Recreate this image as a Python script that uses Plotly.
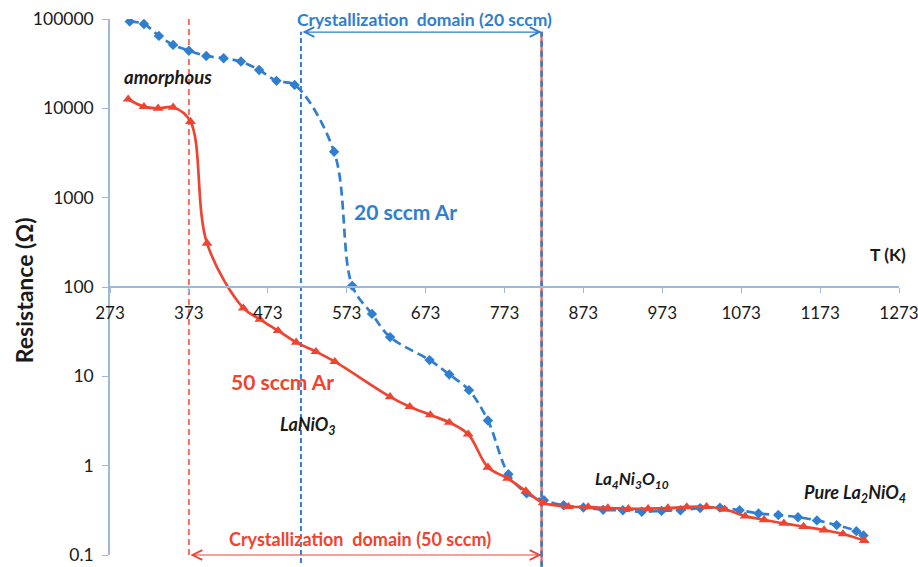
import plotly.graph_objects as go

# ---- data ----
T_20 = [298, 316, 335, 353, 373, 395, 417, 439, 462, 484, 507, 557, 580, 605, 628, 678,
        703, 728, 752, 778, 801, 823, 848, 873, 898, 923, 947, 972, 996, 1021, 1046,
        1071, 1095, 1120, 1145, 1169, 1194, 1219, 1228]
R_20 = [93500, 88000, 64700, 51300, 44200, 38600, 36400, 33400, 26900, 20300, 18300, 3270,
        103, 50, 27.5, 15.2, 10.5, 7.0, 3.2, 0.8, 0.49, 0.41, 0.36, 0.34, 0.32, 0.317,
        0.305, 0.312, 0.317, 0.335, 0.339, 0.317, 0.292, 0.28, 0.265, 0.244, 0.216,
        0.185, 0.165]

T_50 = [296, 316, 334, 353, 375, 396, 442, 463, 486, 509, 534, 558, 628, 653, 679, 703,
        727, 752, 777, 800, 822, 854, 879, 904, 930, 955, 980, 1004, 1029, 1052, 1078,
        1102, 1127, 1152, 1178, 1202, 1229]
R_50 = [12650, 10450, 10000, 10280, 7100, 308, 58, 43.5, 32.4, 24, 18.9, 14.6, 5.9, 4.57,
        3.7, 3.05, 2.25, 0.96, 0.72, 0.52, 0.384, 0.347, 0.345, 0.335, 0.33, 0.33, 0.335,
        0.345, 0.347, 0.325, 0.272, 0.248, 0.226, 0.208, 0.19, 0.172, 0.145]

x_ticks = [273, 373, 473, 573, 673, 773, 873, 973, 1073, 1173, 1273]
y_ticks = [0.1, 1, 10, 100, 1000, 10000, 100000]
y_ticklabels = ["0.1", "1", "10", "100", "1000", "10000", "100000"]

# crystallization domain bounds (K)
start_50 = 373
start_20 = 515
end_both = 820

BLUE = "#2F7ED0"
RED = "#EE4430"
RED_LIGHT = "#F2705C"
AXIS = "#9DB8D8"
FONT = "Lato"
TXT = "#1a1a1a"

fig = go.Figure()
fig.add_trace(go.Scatter(
    x=T_20, y=R_20, mode="lines+markers", hoverinfo="skip",
    line=dict(color=BLUE, width=2.7, dash="9px,5px", shape="spline", smoothing=1),
    marker=dict(symbol="diamond", size=8, color=BLUE)))
fig.add_trace(go.Scatter(
    x=T_50, y=R_50, mode="lines+markers", hoverinfo="skip",
    line=dict(color=RED, width=2.7, shape="spline", smoothing=1),
    marker=dict(symbol="triangle-up", size=9.5, color=RED)))

shapes = [
    dict(type="line", xref="x", yref="paper", x0=start_50, x1=start_50, y0=0, y1=1.007,
         line=dict(color=RED_LIGHT, width=2, dash="6px,4px"), layer="below"),
    dict(type="line", xref="x", yref="paper", x0=start_20, x1=start_20, y0=-0.015, y1=0.976,
         line=dict(color=BLUE, width=2, dash="5px,3px"), layer="below"),
    dict(type="line", xref="x", yref="paper", x0=end_both, x1=end_both, y0=-0.022, y1=0.976,
         line=dict(color=RED_LIGHT, width=2.5), layer="below"),
    dict(type="line", xref="x", yref="paper", x0=end_both, x1=end_both, y0=-0.022, y1=0.976,
         line=dict(color=BLUE, width=2.5, dash="6px,4px"), layer="below"),
]

def label(x, y, text, size, color=TXT, xref="x", yref="y", angle=0):
    return dict(x=x, y=y, xref=xref, yref=yref, text=text, showarrow=False,
                xanchor="center", yanchor="middle", textangle=angle,
                font=dict(size=size, color=color))

ann = [
    # arrows
    dict(x=end_both, y=4.854, ax=start_20, ay=4.854, xref="x", yref="y", axref="x", ayref="y",
         text="", showarrow=True, arrowhead=5, startarrowhead=5, arrowside="end+start",
         arrowcolor=BLUE, arrowwidth=1.2, arrowsize=1.6, startarrowsize=1.6, standoff=0, startstandoff=0),
    dict(x=end_both, y=-1, ax=start_50, ay=-1, xref="x", yref="y", axref="x", ayref="y",
         text="", showarrow=True, arrowhead=5, startarrowhead=5, arrowside="end+start",
         arrowcolor=RED, arrowwidth=1.2, arrowsize=1.6, startarrowsize=1.6, standoff=0, startstandoff=0),
    # texts
    label(672, 0.999, "<b>Crystallization  domain (20 sccm)</b>", 17.5, BLUE, yref="paper"),
    label(590, -0.82, "<b>Crystallization  domain (50 sccm)</b>", 18, RED),
    label(346, 4.35, "<b><i>amorphous</i></b>", 18.5),
    label(647, 2.84, "<b>20 sccm Ar</b>", 21, BLUE),
    label(492, 0.947, "<b>50 sccm Ar</b>", 21, RED),
    label(524, 0.455, "<b><i>LaNiO<sub>3</sub></i></b>", 18),
    label(934, -0.16, "<b><i>La<sub>4</sub>Ni<sub>3</sub>O<sub>10</sub></i></b>", 17),
    label(1217, -0.306, "<b><i>Pure La<sub>2</sub>NiO<sub>4</sub></i></b>", 18),
    label(1259, 2.36, "<b>T (K)</b>", 17.5),
    # y-axis title
    label(-0.109, 0.494, "<b>Resistance (Ω)</b>", 23, xref="paper", yref="paper", angle=-90),
]

fig.update_layout(
    width=918, height=567,
    margin=dict(l=110, r=19, t=19, b=12, autoexpand=False),
    paper_bgcolor="white", plot_bgcolor="white",
    showlegend=False,
    font=dict(family=FONT, size=17, color=TXT),
    xaxis=dict(range=[273, 1273], tickvals=x_ticks, anchor="free", position=0.5,
               showline=True, linecolor=AXIS, linewidth=1.5, ticks="outside", ticklen=5,
               tickcolor=AXIS, tickwidth=1.2, showgrid=False, zeroline=False,
               automargin=False, ticklabeloverflow="allow",
               ticklabelstandoff=6, tickfont=dict(size=17, color=TXT)),
    yaxis=dict(type="log", range=[-1, 5], tickvals=y_ticks, ticktext=y_ticklabels,
               showline=True, linecolor=AXIS, linewidth=1.5, ticks="outside", ticklen=6,
               tickcolor=AXIS, tickwidth=1.2, showgrid=False, zeroline=False,
               automargin=False, ticklabeloverflow="allow",
               ticklabelstandoff=5, tickfont=dict(size=17.5, color=TXT)),
    shapes=shapes,
    annotations=ann,
)

# remove the default 8px page margin so the 918x567 figure fills the window exactly
fig.write_html(
    "out.html",
    config={"displayModeBar": False},
    post_script="document.body.style.margin='0';document.documentElement.style.overflow='hidden';",
)
